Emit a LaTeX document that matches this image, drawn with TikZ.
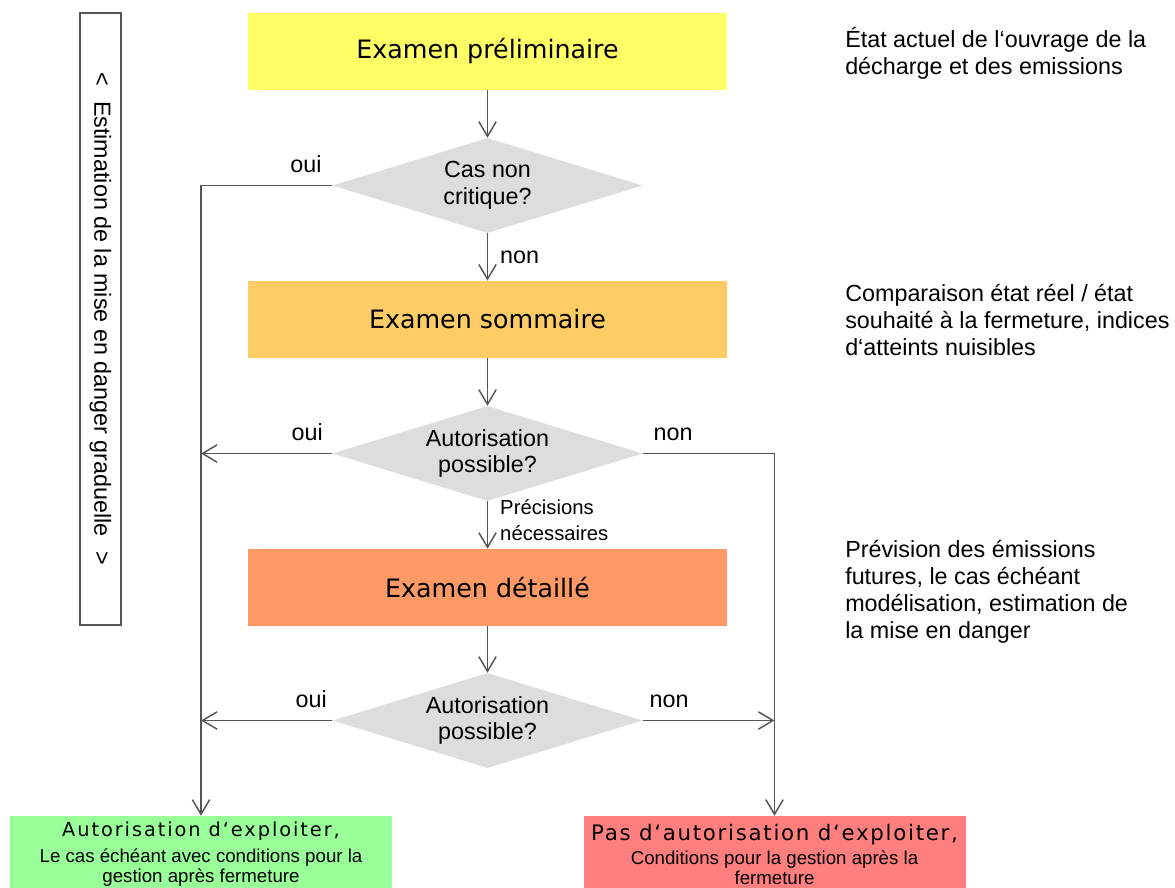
\documentclass[tikz,border=0pt]{standalone}
\usepackage{fontspec}
\setmainfont{Liberation Sans}
\newfontfamily\titlefont{DejaVu Sans}
\newfontfamily\okfont[LetterSpace=10]{DejaVu Sans}
\newfontfamily\kofont[LetterSpace=8]{DejaVu Sans}
\usepackage{tikz}
\usetikzlibrary{arrows.meta,shapes.geometric}
\definecolor{prelimcol}{HTML}{FFFF66}
\definecolor{sommcol}{HTML}{FFCC66}
\definecolor{detcol}{HTML}{FF9966}
\definecolor{okcol}{HTML}{99FF99}
\definecolor{kocol}{HTML}{FF7F7F}
\definecolor{questcol}{HTML}{DDDDDD}
\definecolor{linecol}{HTML}{555555}
\tikzstyle{examen}=[rectangle,minimum width=359.25pt,minimum height=57.75pt,inner sep=0pt,font=\titlefont\fontsize{19}{23}\selectfont]
\tikzstyle{decision}=[diamond,aspect=3.26,minimum width=232.5pt,minimum height=71.25pt,inner sep=0pt,fill=questcol,align=center,font=\fontsize{17.5}{20}\selectfont]
\tikzstyle{result}=[rectangle,minimum width=286.5pt,minimum height=57pt,inner sep=0pt,align=center,font=\fontsize{14}{15}\selectfont]
\tikzstyle{arrow}=[draw,line width=1.1pt,linecol,-{Straight Barb[length=11pt,width=13pt]}]
\tikzstyle{answer}=[font=\fontsize{17.5}{21}\selectfont,text=black,inner sep=0pt]
\tikzstyle{small answer}=[answer,font=\fontsize{15.2}{19.5}\selectfont,align=left]
\tikzstyle{note}=[anchor=north west,inner sep=0pt,align=left,font=\fontsize{17.5}{20.25}\selectfont]

\begin{document}
\begin{tikzpicture}[x=0.75pt,y=-0.75pt]
    \useasboundingbox (0,0) rectangle (1175,888);
    % main column
    \foreach \name/\ypos/\col/\txt in {prelim/51.5/prelimcol/Examen préliminaire, sommaire/319.3/sommcol/Examen sommaire, detail/587.5/detcol/Examen détaillé}
        \node[examen,fill=\col] (\name) at (487.5,\ypos) {\txt};
    \foreach \name/\ypos/\txt in {q1/185.5/{Cas non\\critique?}, q2/453.5/{Autorisation\\possible?}, q3/720.5/{Autorisation\\possible?}}
        \node[decision] (\name) at (487.5,\ypos) {\txt};
    \node[result,fill=okcol] (accept) at (201,854) {{\okfont\fontsize{14.5}{16}\selectfont Autorisation d‘exploiter,}\\[4pt]Le cas échéant avec conditions pour la\\gestion après fermeture};
    \node[result,fill=kocol] (refuse) at (774.5,854) {{\kofont\fontsize{16}{16}\selectfont Pas d‘autorisation d‘exploiter,}\\[3pt]Conditions pour la gestion après la\\fermeture};
    % side bar
    \node[draw=linecol,line width=0.8pt,rotate=-90,minimum width=459pt,minimum height=30.75pt,inner sep=0pt,font=\fontsize{17.5}{21}\selectfont] (graduel) at (100.5,319) {<\hspace{0.65em}Estimation de la mise en danger graduelle\hspace{0.65em}>};
    % comments
    \node[note] (etat) at (845,27) {État actuel de l‘ouvrage de la\\décharge et des emissions};
    \node[note] (comparaison) at (845,284) {Comparaison état réel / état\\souhaité à la fermeture, indices\\d‘atteints nuisibles};
    \node[note] (prevision) at (845,540) {Prévision des émissions\\futures, le cas échéant\\modélisation, estimation de\\la mise en danger};
    % connectors
    \coordinate (lefttop) at (201,185.5);
    \coordinate (righttop) at (774.5,453.5);
    \foreach \source/\dest in {prelim/q1, sommaire/q2, detail/q3}
        \path[arrow] (\source) -- (\dest);
    \path[arrow] (q1) -- node[answer,right=9pt] {non} (sommaire);
    \path[arrow] (q2) -- node[small answer,right=9pt,yshift=4pt] {Précisions\\nécessaires} (detail);
    \path[arrow] (q1.west) -- node[answer,pos=0.2,above=9pt] {oui} (lefttop) -- (accept.north);
    \path[arrow] (q2.west) -- node[answer,pos=0.19,above=9pt] {oui} (q2.west -| lefttop);
    \path[arrow] (q2.east) -- node[answer,pos=0.23,above=9pt] {non} (righttop) -- (refuse.north);
    \path[arrow] (q3.west) -- node[answer,pos=0.16,above=9pt] {oui} (q3.west -| lefttop);
    \path[arrow] (q3.east) -- node[answer,pos=0.2,above=9pt] {non} (q3.east -| righttop);
\end{tikzpicture}
\end{document}
